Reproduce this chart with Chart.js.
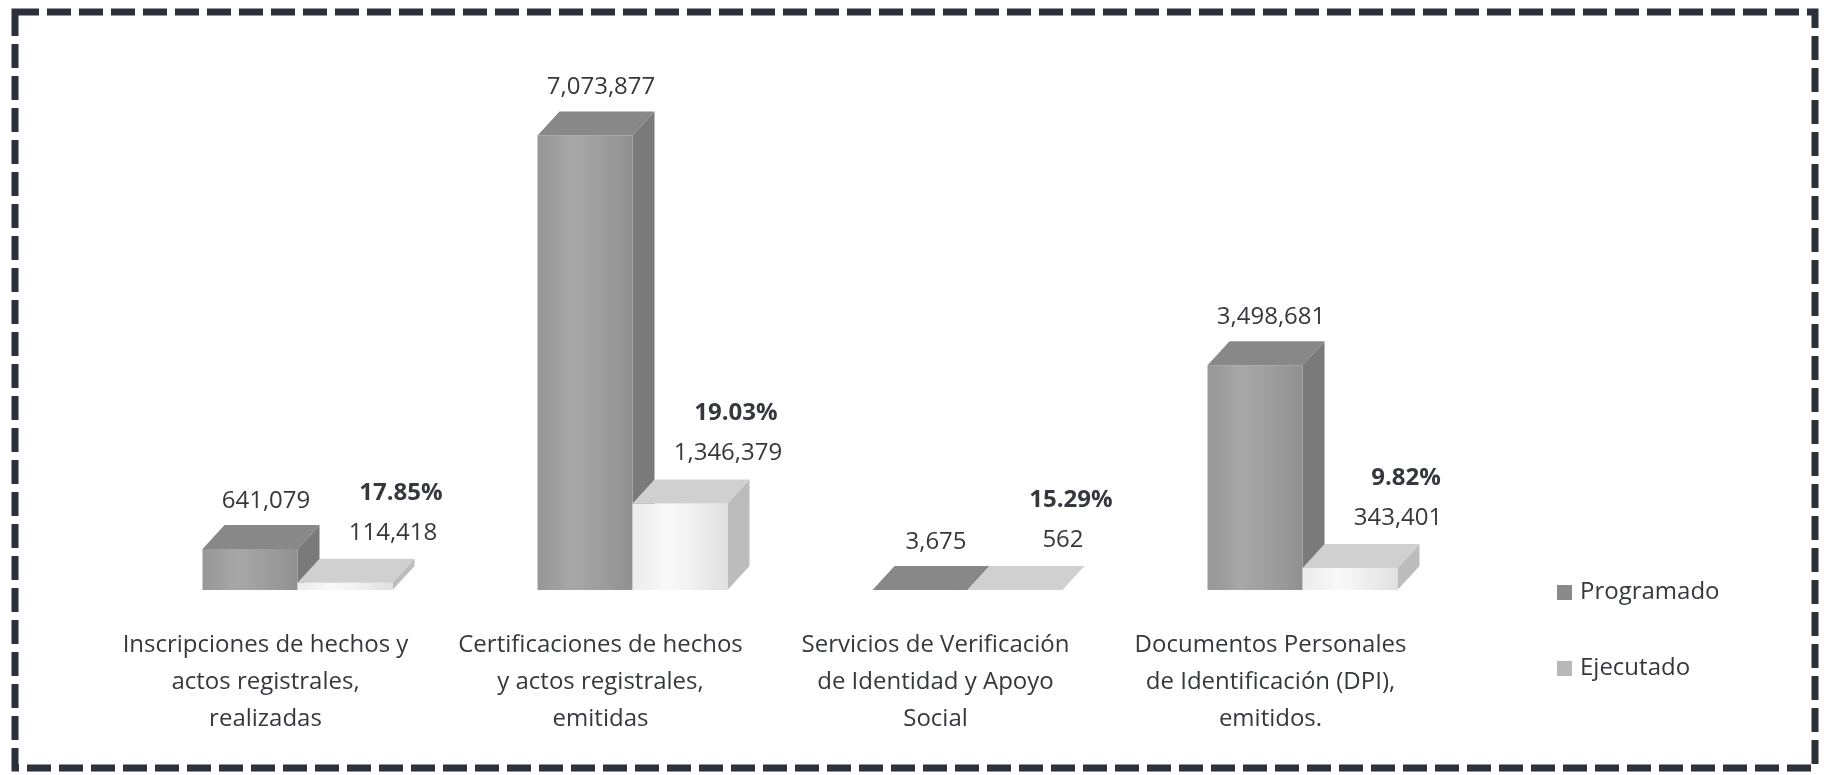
<!DOCTYPE html>
<html><head><meta charset="utf-8">
<script src="https://cdn.jsdelivr.net/npm/chart.js@4.4.0/dist/chart.umd.min.js"></script>
<style>html,body{margin:0;padding:0;background:#fff;overflow:hidden}</style>
</head><body>
<canvas id="c" width="1827" height="775"></canvas>
<script>
const categories = [
  ['Inscripciones de hechos y', 'actos registrales,', 'realizadas'],
  ['Certificaciones de hechos', 'y actos registrales,', 'emitidas'],
  ['Servicios de Verificación', 'de Identidad y Apoyo', 'Social'],
  ['Documentos Personales', 'de Identificación (DPI),', 'emitidos.']
];
const seriesNames = ['Programado', 'Ejecutado'];
const programado = [641079, 7073877, 3675, 3498681];
const ejecutado = [114418, 1346379, 562, 343401];
const porcentajes = ['17.85%', '19.03%', '15.29%', '9.82%'];

const FONT = '"Open Sans", sans-serif';
const TEXT = '#36383e';
const DX = 22, DY = 24;
const faces = [
  { front: '#a0a0a0', top: '#888888', side: '#7a7a7a', legend: '#8a8a8a' },
  { front: '#f9f9f9', top: '#d0d0d0', side: '#bcbcbc', legend: '#b8b8b8' }
];

const frame = {
  id: 'frame',
  beforeDraw(chart) {
    const ctx = chart.ctx;
    ctx.save();
    ctx.fillStyle = '#ffffff';
    ctx.fillRect(0, 0, chart.width, chart.height);
    ctx.strokeStyle = '#2c303a';
    ctx.lineWidth = 7;
    ctx.setLineDash([24, 8]);
    ctx.strokeRect(15, 12, 1800, 756);
    ctx.restore();
  }
};

const bars3d = {
  id: 'bars3d',
  beforeDatasetsDraw(chart) {
    const ctx = chart.ctx;
    chart.data.datasets.forEach((ds, di) => {
      const meta = chart.getDatasetMeta(di);
      const c = faces[di];
      meta.data.forEach(bar => {
        const { x, y, base, width } = bar.getProps(['x', 'y', 'base', 'width'], true);
        const l = x - width / 2, r = x + width / 2;
        ctx.save();
        // side face
        ctx.fillStyle = c.side;
        ctx.beginPath();
        ctx.moveTo(r, y); ctx.lineTo(r + DX, y - DY); ctx.lineTo(r + DX, base - DY); ctx.lineTo(r, base);
        ctx.closePath(); ctx.fill();
        // front face (library element)
        bar.draw(ctx, chart.chartArea);
        // shading on the front face
        const g = ctx.createLinearGradient(l, 0, r, 0);
        g.addColorStop(0, 'rgba(0,0,0,0.05)');
        g.addColorStop(0.35, 'rgba(255,255,255,0.08)');
        g.addColorStop(1, 'rgba(0,0,0,0.10)');
        ctx.fillStyle = g;
        ctx.fillRect(l, y, width, base - y);
        // top face
        ctx.fillStyle = c.top;
        ctx.beginPath();
        ctx.moveTo(l, y); ctx.lineTo(l + DX, y - DY); ctx.lineTo(r + DX, y - DY); ctx.lineTo(r, y);
        ctx.closePath(); ctx.fill();
        ctx.restore();
      });
    });
    return false;
  }
};

const labels = {
  id: 'labels',
  afterDraw(chart) {
    const ctx = chart.ctx;
    ctx.save();
    ctx.textAlign = 'center';
    ctx.textBaseline = 'middle';
    ctx.fillStyle = TEXT;
    const m0 = chart.getDatasetMeta(0), m1 = chart.getDatasetMeta(1);
    ctx.font = '24px ' + FONT;
    m0.data.forEach((bar, i) => {
      ctx.fillText(programado[i].toLocaleString('en-US'), bar.x + 16, bar.y - 48);
    });
    m1.data.forEach((bar, i) => {
      ctx.font = '24px ' + FONT;
      ctx.fillText(ejecutado[i].toLocaleString('en-US'), bar.x + 48, bar.y - 50);
      ctx.font = 'bold 24px ' + FONT;
      ctx.fillText(porcentajes[i], bar.x + 56, bar.y - 90);
    });
    // legend
    ctx.textAlign = 'left';
    ctx.font = '24px ' + FONT;
    const ly = [592, 668];
    chart.data.datasets.forEach((ds, di) => {
      ctx.fillStyle = faces[di].legend;
      ctx.fillRect(1557, ly[di] - 7, 15, 15);
      ctx.fillStyle = TEXT;
      ctx.fillText(ds.label, 1580, ly[di]);
    });
    ctx.restore();
  }
};

new Chart(document.getElementById('c'), {
  type: 'bar',
  data: {
    labels: categories,
    datasets: [
      { label: seriesNames[0], data: programado, backgroundColor: faces[0].front },
      { label: seriesNames[1], data: ejecutado, backgroundColor: faces[1].front }
    ]
  },
  options: {
    responsive: false,
    animation: false,
    devicePixelRatio: 1,
    categoryPercentage: 0.567,
    barPercentage: 1.0,
    layout: { padding: { left: 130, right: 357, top: 76, bottom: 0 } },
    plugins: { legend: { display: false }, tooltip: { enabled: false } },
    scales: {
      x: {
        grid: { display: false, drawTicks: false },
        border: { display: false },
        ticks: {
          color: TEXT,
          font: { family: FONT, size: 24, lineHeight: 1.54 },
          padding: 37,
          labelOffset: -32,
          maxRotation: 0
        }
      },
      y: { display: false, min: 0, max: 8000000 }
    }
  },
  plugins: [frame, bars3d, labels]
});
</script>
</body></html>
